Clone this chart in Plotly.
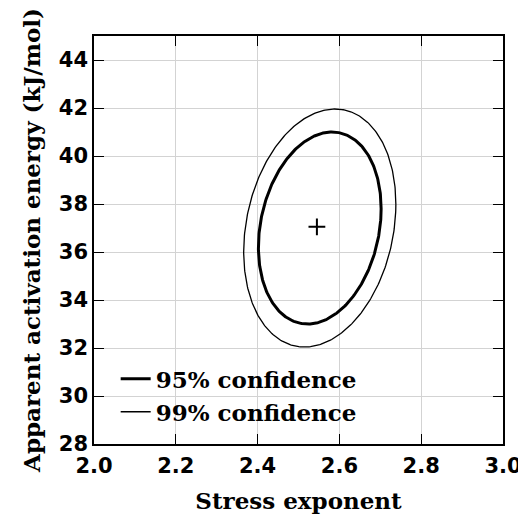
import numpy as np
import plotly.graph_objects as go

# Parameter estimates (stress exponent n, apparent activation energy Q)
estimate_n = 2.545
estimate_Q = 37.05
# Centre of the confidence regions
region_n = 2.552
region_Q = 37.0
# Standard errors and correlation of the estimates
se_n = 0.0613
se_Q = 1.634
rho = 0.2
# Chi-square quantiles (2 dof) for each confidence level
levels = ["95% confidence", "99% confidence"]
chi2_q = [5.991, 9.210]
line_widths = [3, 1.3]

x_ticks = [2.0, 2.2, 2.4, 2.6, 2.8, 3.0]
y_ticks = [28, 30, 32, 34, 36, 38, 40, 42, 44]

t = np.linspace(0, 2 * np.pi, 361)

fig = go.Figure()
for name, q, w in zip(levels, chi2_q, line_widths):
    k = np.sqrt(q)
    xs = region_n + k * se_n * np.cos(t)
    ys = region_Q + k * se_Q * (rho * np.cos(t) + np.sqrt(1 - rho ** 2) * np.sin(t))
    fig.add_trace(go.Scatter(x=xs, y=ys, mode="lines", name=f"<b>{name}</b>",
                             line=dict(color="black", width=w)))

fig.add_trace(go.Scatter(x=[estimate_n], y=[estimate_Q], mode="markers",
                         showlegend=False,
                         marker=dict(symbol="cross-thin", size=12,
                                     line=dict(width=2, color="black"))))

tick_font = dict(family="DejaVu Sans", size=21, color="black")
title_font = dict(family="DejaVu Serif", size=23, color="black")

fig.update_layout(
    width=518, height=511,
    margin=dict(l=86, r=23, t=28, b=75, autoexpand=False),
    paper_bgcolor="white", plot_bgcolor="white",
    showlegend=True,
    legend=dict(x=0.053, y=0.026, xanchor="left", yanchor="bottom",
                bgcolor="rgba(0,0,0,0)",
                font=dict(family="DejaVu Serif", size=23, color="black"),
                itemwidth=30),
    xaxis=dict(range=[2.0, 3.0], tickvals=x_ticks,
               ticktext=[f"<b>{v:.1f}</b>" for v in x_ticks],
               showgrid=True, gridcolor="#d3d3d3", gridwidth=1,
               showline=True, linecolor="black", linewidth=1.5, mirror="ticks",
               ticks="inside", ticklen=10, tickcolor="black",
               tickfont=tick_font, zeroline=False, ticklabelstandoff=2,
               title=dict(text="<b>Stress exponent</b>", font=title_font, standoff=16)),
    yaxis=dict(range=[28, 45], tickvals=y_ticks,
               ticktext=[f"<b>{v}</b>" for v in y_ticks],
               showgrid=True, gridcolor="#d3d3d3", gridwidth=1,
               showline=True, linecolor="black", linewidth=1.5, mirror="ticks",
               ticks="inside", ticklen=10, tickcolor="black",
               tickfont=tick_font, zeroline=False,
               title=dict(text="<b>Apparent activation energy (kJ/mol)</b>",
                          font=title_font, standoff=12)),
)

fig.write_html("out.html")
